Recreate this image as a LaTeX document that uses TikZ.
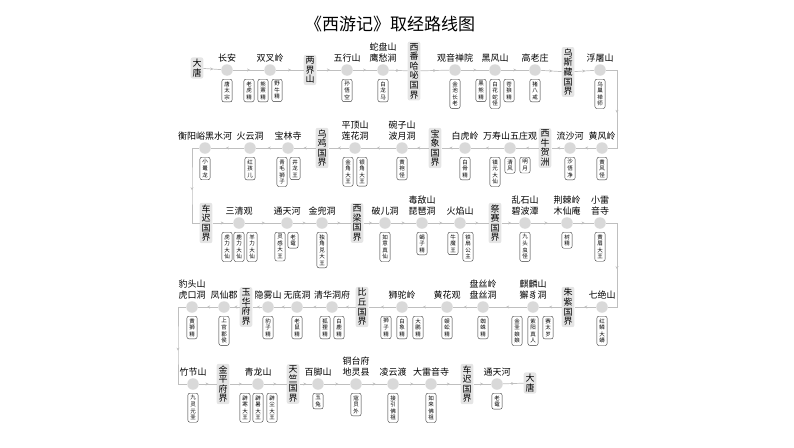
\documentclass[tikz,border=0pt]{standalone}
\usepackage{fontspec}
\setmainfont{Noto Sans CJK SC}
\usetikzlibrary{arrows.meta, decorations.markings}
\XeTeXlinebreaklocale "zh"
\XeTeXlinebreakskip=0pt plus 1pt

\tikzset{
  spot/.style={circle, fill=gray!30, minimum size=11.5pt, inner sep=0pt},
  guo/.style={fill=gray!20, rounded corners=2pt, inner sep=1.6pt, text width=9.4pt, align=center,
    font=\fontsize{9}{9.6}\selectfont},
  yao/.style={draw=black!80, line width=0.4pt, rounded corners=2pt, fill=white, inner sep=2.2pt,
    text width=5.8pt, align=center, anchor=north, font=\fontsize{5.5}{6.6}\selectfont},
  pname/.style={font=\fontsize{9}{10.2}\selectfont, align=center, inner sep=1pt},
  route/.style={gray!50, line width=0.7pt, postaction={decorate},
    decoration={markings, mark=at position 0.55 with {\arrow{Stealth[length=3pt,width=3pt]}}}},
}

\begin{document}
\begin{tikzpicture}[x=1pt, y=-1pt, label distance=1pt]
  \useasboundingbox (0,0) rectangle (794,447);

  % 标题
  \node[font=\fontsize{17}{17}\selectfont] (title) at (390,24) {《西游记》取经路线图};

  % 第一行
  \node[guo] (datang1) at (197,68) {大唐};
  \node[spot, label={[pname]above:长安}] (changan) at (227,70) {};
  \node[spot, label={[pname]above:双叉岭}] (shuangcha) at (270,70) {};
  \node[guo] (liangjie) at (310,70) {两界山};
  \node[spot, label={[pname]above:五行山}] (wuxing) at (347,70) {};
  \node[spot, label={[pname]above:蛇盘山\\鹰愁涧}] (shepan) at (383,70) {};
  \node[guo] (xifan) at (414,71) {西番哈咇国界};
  \node[spot, label={[pname]above:观音禅院}] (guanyin) at (455,70) {};
  \node[spot, label={[pname]above:黑风山}] (heifeng) at (495,70) {};
  \node[spot, label={[pname]above:高老庄}] (gaolao) at (535,70) {};
  \node[guo] (wusizang) at (568,72) {乌斯藏国界};
  \node[spot, label={[pname]above:浮屠山}] (futu) at (600,70) {};

  \node[yao] (y11) at (227,79) {唐太宗};
  \node[yao] (y12) at (249,79) {老虎精};
  \node[yao] (y13) at (263,79) {熊罴精};
  \node[yao] (y14) at (277,79) {野牛精};
  \node[yao] (y15) at (347,79) {孙悟空};
  \node[yao] (y16) at (383,79) {白龙马};
  \node[yao] (y17) at (455,79) {金池长老};
  \node[yao] (y18) at (481,79) {黑熊精};
  \node[yao] (y19) at (495,79) {白花蛇怪};
  \node[yao] (y1a) at (509,79) {苍狼精};
  \node[yao] (y1b) at (535,79) {猪八戒};
  \node[yao] (y1c) at (600,79) {乌巢禅师};

  % 第二行
  \node[spot, label={[pname]above:黄风岭}] (huangfeng) at (602,148) {};
  \node[spot, label={[pname]above:流沙河}] (liusha) at (570,148) {};
  \node[guo] (xiniu) at (545,148) {西牛贺洲};
  \node[spot, label={[pname]above:万寿山五庄观}] (wanshou) at (510,148) {};
  \node[spot, label={[pname]above:白虎岭}] (baihu) at (465,148) {};
  \node[guo] (baoxiang) at (435,148) {宝象国界};
  \node[spot, label={[pname]above:碗子山\\波月洞}] (wanzi) at (402,148) {};
  \node[spot, label={[pname]above:平顶山\\莲花洞}] (pingding) at (355,148) {};
  \node[guo] (wuji) at (322,148) {乌鸡国界};
  \node[spot, label={[pname]above:宝林寺}] (baolin) at (288,148) {};
  \node[spot, label={[pname]above:火云洞}] (huoyun) at (250,148) {};
  \node[spot, label={[pname]above:衡阳峪黑水河}] (heishui) at (205,148) {};

  \node[yao] (y21) at (602,157) {黄风怪};
  \node[yao] (y22) at (570,157) {沙悟净};
  \node[yao] (y23) at (495,157) {镇元大仙};
  \node[yao] (y24) at (510,157) {清风};
  \node[yao] (y25) at (525,157) {明月};
  \node[yao] (y26) at (465,157) {白骨精};
  \node[yao] (y27) at (402,157) {黄袍怪};
  \node[yao] (y28) at (348,157) {金角大王};
  \node[yao] (y29) at (362,157) {银角大王};
  \node[yao] (y2a) at (282,157) {青毛狮子};
  \node[yao] (y2b) at (295,157) {井龙王};
  \node[yao] (y2c) at (250,157) {红孩儿};
  \node[yao] (y2d) at (205,157) {小鼍龙};

  % 第三行
  \node[guo] (chechi) at (206,223) {车迟国界};
  \node[spot, label={[pname]above:三清观}] (sanqing) at (239,223) {};
  \node[spot, label={[pname]above:通天河}] (tongtian) at (287,223) {};
  \node[spot, label={[pname]above:金兜洞}] (jindou) at (322,223) {};
  \node[guo] (xiliang) at (357,223) {西梁国界};
  \node[spot, label={[pname]above:破儿洞}] (poer) at (385,223) {};
  \node[spot, label={[pname]above:毒敌山\\琵琶洞}] (dudi) at (422,223) {};
  \node[spot, label={[pname]above:火焰山}] (huoyan) at (460,223) {};
  \node[guo] (jisai) at (495,223) {祭赛国界};
  \node[spot, label={[pname]above:乱石山\\碧波潭}] (luanshi) at (525,223) {};
  \node[spot, label={[pname]above:荆棘岭\\木仙庵}] (jingji) at (567,223) {};
  \node[spot, label={[pname]above:小雷\\音寺}] (xiaoleiyin) at (600,223) {};

  \node[yao] (y31) at (227,232) {虎力大仙};
  \node[yao] (y32) at (239,232) {鹿力大仙};
  \node[yao] (y33) at (252,232) {羊力大仙};
  \node[yao] (y34) at (280,232) {灵感大王};
  \node[yao] (y35) at (293,232) {老鼋};
  \node[yao] (y36) at (322,232) {独角兕大王};
  \node[yao] (y37) at (385,232) {如意真仙};
  \node[yao] (y38) at (422,232) {蝎子精};
  \node[yao] (y39) at (453,232) {牛魔王};
  \node[yao] (y3a) at (468,232) {铁扇公主};
  \node[yao] (y3b) at (525,232) {九头虫怪};
  \node[yao] (y3c) at (567,232) {树精};
  \node[yao] (y3d) at (600,232) {黄眉大王};

  % 第四行
  \node[spot, label={[pname]above:七绝山}] (qijue) at (602,307) {};
  \node[guo] (zhuzi) at (568,307) {朱紫国界};
  \node[spot, label={[pname]above:麒麟山\\獬豸洞}] (qilin) at (533,307) {};
  \node[spot, label={[pname]above:盘丝岭\\盘丝洞}] (pansi) at (483,307) {};
  \node[spot, label={[pname]above:黄花观}] (huanghua) at (447,307) {};
  \node[spot, label={[pname]above:狮驼岭}] (shituo) at (402,307) {};
  \node[guo] (biqiu) at (362,307) {比丘国界};
  \node[spot, label={[pname]above:清华洞府}] (qinghua) at (332,307) {};
  \node[spot, label={[pname]above:无底洞}] (wudi) at (297,307) {};
  \node[spot, label={[pname]above:隐雾山}] (yinwu) at (268,307) {};
  \node[guo] (yuhua) at (246,307) {玉华府界};
  \node[spot, label={[pname]above:凤仙郡}] (fengxian) at (224,307) {};
  \node[spot, label={[pname]above:豹头山\\虎口洞}] (baotou) at (192,307) {};

  \node[yao] (y41) at (602,316) {红鳞大蟒};
  \node[yao] (y42) at (517,316) {金圣娘娘};
  \node[yao] (y43) at (533,316) {紫阳真人};
  \node[yao] (y44) at (548,316) {赛太岁};
  \node[yao] (y45) at (483,316) {蜘蛛精};
  \node[yao] (y46) at (447,316) {蜈蚣精};
  \node[yao] (y47) at (386,316) {狮子精};
  \node[yao] (y48) at (402,316) {白象精};
  \node[yao] (y49) at (418,316) {大鹏精};
  \node[yao] (y4a) at (325,316) {狐狸精};
  \node[yao] (y4b) at (339,316) {白鹿精};
  \node[yao] (y4c) at (297,316) {老鼠精};
  \node[yao] (y4d) at (268,316) {豹子精};
  \node[yao] (y4e) at (224,316) {上官郡侯};
  \node[yao] (y4f) at (192,316) {黄狮精};

  % 第五行
  \node[spot, label={[pname]above:竹节山}] (zhujie) at (193,384) {};
  \node[guo] (jinping) at (223,384) {金平府界};
  \node[spot, label={[pname]above:青龙山}] (qinglong) at (258,384) {};
  \node[guo] (tianzhu) at (293,384) {天竺国界};
  \node[spot, label={[pname]above:百脚山}] (baijiao) at (318,384) {};
  \node[spot, label={[pname]above:铜台府\\地灵县}] (tongtai) at (356,384) {};
  \node[spot, label={[pname]above:凌云渡}] (lingyun) at (393,384) {};
  \node[spot, label={[pname]above:大雷音寺}] (daleiyin) at (431,384) {};
  \node[guo] (chechi2) at (467,384) {车迟国界};
  \node[spot, label={[pname]above:通天河}] (tongtian2) at (497,384) {};
  \node[guo] (datang2) at (530,383) {大唐};

  \node[yao] (y51) at (193,393) {九灵元圣};
  \node[yao] (y52) at (245,393) {辟寒大王};
  \node[yao] (y53) at (258,393) {辟暑大王};
  \node[yao] (y54) at (272,393) {辟尘大王};
  \node[yao] (y55) at (318,393) {玉兔};
  \node[yao] (y56) at (356,393) {寇员外};
  \node[yao] (y57) at (393,393) {接引佛祖};
  \node[yao] (y58) at (431,393) {如来佛祖};
  \node[yao] (y59) at (497,393) {老鼋};

  % 路线
  \foreach \a/\b in {datang1/changan, changan/shuangcha, shuangcha/liangjie, liangjie/wuxing,
      wuxing/shepan, shepan/xifan, xifan/guanyin, guanyin/heifeng, heifeng/gaolao,
      gaolao/wusizang, wusizang/futu,
      huangfeng/liusha, liusha/xiniu, xiniu/wanshou, wanshou/baihu, baihu/baoxiang,
      baoxiang/wanzi, wanzi/pingding, pingding/wuji, wuji/baolin, baolin/huoyun, huoyun/heishui,
      chechi/sanqing, sanqing/tongtian, tongtian/jindou, jindou/xiliang, xiliang/poer,
      poer/dudi, dudi/huoyan, huoyan/jisai, jisai/luanshi, luanshi/jingji, jingji/xiaoleiyin,
      qijue/zhuzi, zhuzi/qilin, qilin/pansi, pansi/huanghua, huanghua/shituo, shituo/biqiu,
      biqiu/qinghua, qinghua/wudi, wudi/yinwu, yinwu/yuhua, yuhua/fengxian, fengxian/baotou,
      zhujie/jinping, jinping/qinglong, qinglong/tianzhu, tianzhu/baijiao, baijiao/tongtai,
      tongtai/lingyun, lingyun/daleiyin, daleiyin/chechi2, chechi2/tongtian2, tongtian2/datang2}
    \draw[route] (\a) -- (\b);

  % 拐角
  \coordinate (e1) at (617,110);
  \coordinate (w1) at (192,186);
  \coordinate (e2) at (617,265);
  \coordinate (w2) at (178,345);
  \draw[route] (futu) -| (e1) |- (huangfeng);
  \draw[route] (heishui) -| (w1) |- (chechi);
  \draw[route] (xiaoleiyin) -| (e2) |- (qijue);
  \draw[route] (baotou) -| (w2) |- (zhujie);
\end{tikzpicture}
\end{document}
